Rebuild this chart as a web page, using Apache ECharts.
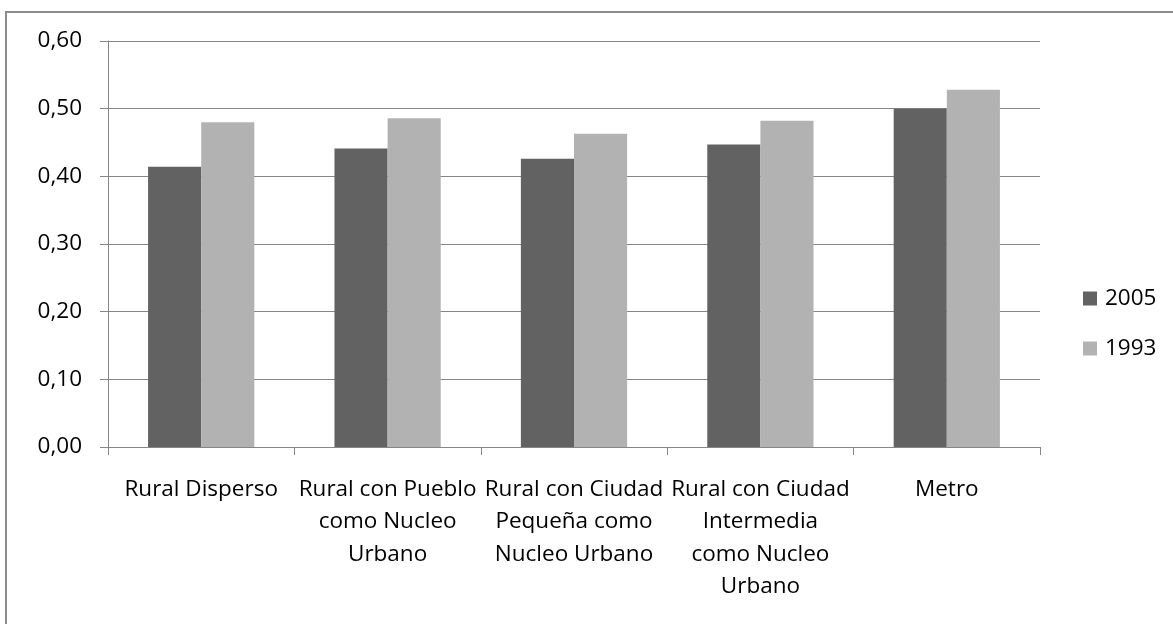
<!DOCTYPE html>
<html>
<head>
<meta charset="utf-8">
<script src="https://cdn.jsdelivr.net/npm/echarts@6/dist/echarts.min.js"></script>
<style>
  html, body { margin: 0; padding: 0; background: #fff; }
  #chart { width: 1173px; height: 624px; }
</style>
</head>
<body>
<div id="chart"></div>
<script>
  // categories (line breaks as in the original labels)
  var categories = [
    'Rural Disperso',
    'Rural con Pueblo\ncomo Nucleo\nUrbano',
    'Rural con Ciudad\nPequeña como\nNucleo Urbano',
    'Rural con Ciudad\nIntermedia\ncomo Nucleo\nUrbano',
    'Metro'
  ]
  var values2005 = [0.414, 0.441, 0.426, 0.447, 0.500]
  var values1993 = [0.480, 0.486, 0.463, 0.482, 0.528]
  var yTicks = [0, 0.1, 0.2, 0.3, 0.4, 0.5, 0.6]

  var font = 'Open Sans'
  var fs = 22.5
  var chart = echarts.init(document.getElementById('chart'))
  chart.setOption({
    animation: false,
    textStyle: { fontFamily: font },
    graphic: [{
      type: 'rect',
      shape: { x: 6, y: 12, width: 1300, height: 800 },
      style: { fill: 'none', stroke: '#8c8c8c', lineWidth: 2 },
      silent: true
    }],
    grid: {
      left: 108,
      right: 133,
      top: 41,
      bottom: 177,
      containLabel: false
    },
    legend: {
      orient: 'vertical',
      left: 1078,
      top: 282,
      itemWidth: 14,
      itemHeight: 14,
      itemGap: 27,
      icon: 'rect',
      textStyle: { color: '#000', fontSize: fs, lineHeight: 22, fontFamily: font, padding: [0, 0, 0, 3] },
      data: ['2005', '1993']
    },
    xAxis: {
      type: 'category',
      data: categories,
      axisLine: { show: true, lineStyle: { color: '#868686', width: 1 } },
      axisTick: { show: true, length: 8, alignWithLabel: false, lineStyle: { color: '#868686' } },
      axisLabel: {
        interval: 0,
        margin: 26,
        color: '#000',
        fontSize: fs,
        fontFamily: font,
        lineHeight: 32.5,
        align: 'center',
        verticalAlign: 'top'
      },
      splitLine: { show: false }
    },
    yAxis: {
      type: 'value',
      min: yTicks[0],
      max: yTicks[yTicks.length - 1],
      interval: 0.1,
      axisLine: { show: true, lineStyle: { color: '#868686', width: 1 } },
      axisTick: { show: true, length: 8, lineStyle: { color: '#868686' } },
      axisLabel: {
        margin: 26,
        color: '#000',
        fontSize: fs,
        fontFamily: font,
        formatter: function (v) {
          return v.toFixed(2).replace('.', ',')
        }
      },
      splitLine: { show: true, lineStyle: { color: '#868686', width: 1 } }
    },
    series: [{
      name: '2005',
      type: 'bar',
      data: values2005,
      barGap: '0%',
      barCategoryGap: '43%',
      itemStyle: { color: '#626262' }
    }, {
      name: '1993',
      type: 'bar',
      data: values1993,
      barGap: '0%',
      barCategoryGap: '43%',
      itemStyle: { color: '#b2b2b2' }
    }]
  })
</script>
</body>
</html>
